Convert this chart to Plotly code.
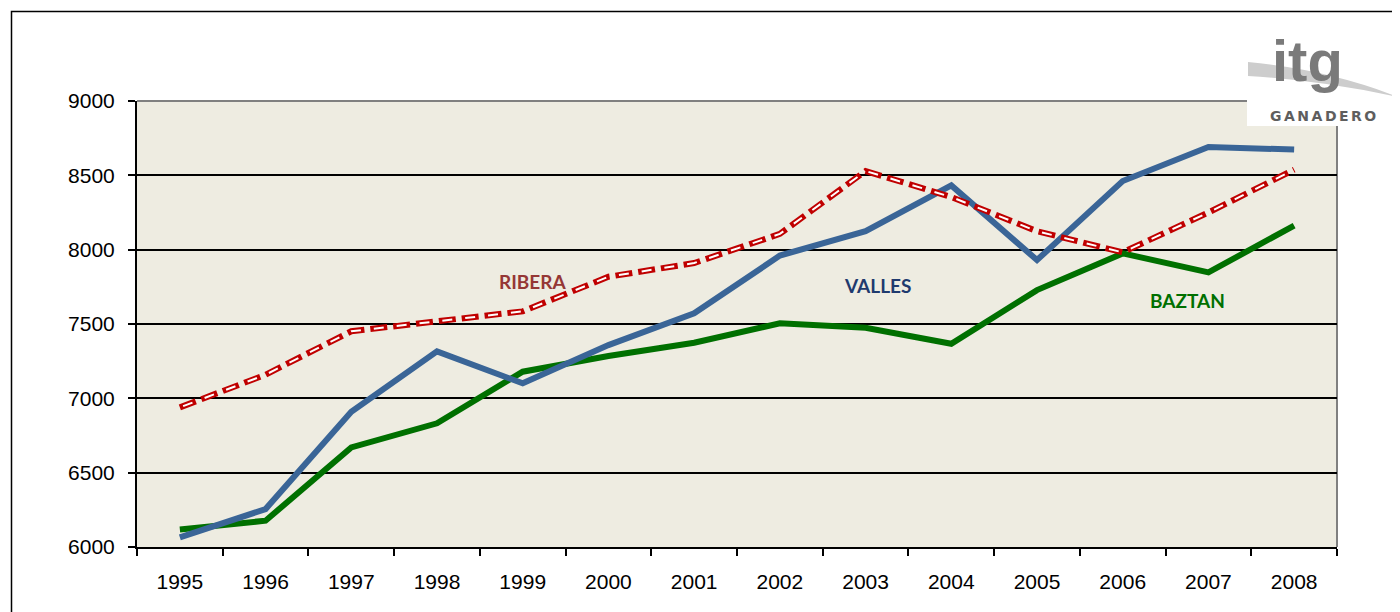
import plotly.graph_objects as go

years = [str(y) for y in range(1995, 2009)]
valles = [6065, 6255, 6910, 7316, 7101, 7358, 7572, 7960, 8124, 8432, 7930, 8462, 8691, 8673]
baztan = [6118, 6177, 6670, 6832, 7179, 7285, 7374, 7505, 7475, 7367, 7728, 7975, 7847, 8162]
ribera = [6939, 7159, 7451, 7516, 7585, 7818, 7910, 8106, 8529, 8354, 8124, 7982, 8250, 8538]

y_ticks = [6000, 6500, 7000, 7500, 8000, 8500, 9000]

W, H = 1400, 612
OFF = 8  # page body margin
L, R, T, B = 137, 1337, 101, 547  # plot area in screen pixels


def px(x):
    return (x - L) / (R - L)


def py(y):
    return (B - y) / (B - T)


fig = go.Figure()
fig.add_trace(go.Scatter(x=years, y=baztan, mode="lines", name="BAZTAN",
                         line=dict(color="#007000", width=6)))
fig.add_trace(go.Scatter(x=years, y=valles, mode="lines", name="VALLES",
                         line=dict(color="#3A6597", width=6)))
fig.add_trace(go.Scatter(x=years, y=ribera, mode="lines", name="RIBERA",
                         line=dict(color="#C00000", width=6, dash="17px,6px")))
fig.add_trace(go.Scatter(x=years, y=ribera, mode="lines", name="RIBERA",
                         line=dict(color="#FFFFFF", width=2, dash="0px,3.5px,10px,9.5px"),
                         hoverinfo="skip"))

shapes = [
    dict(type="line", xref="paper", yref="paper", x0=0, x1=1, y0=1, y1=1,
         line=dict(color="#808080", width=2), layer="between"),
    dict(type="line", xref="paper", yref="paper", x0=1, x1=1, y0=0, y1=1,
         line=dict(color="#808080", width=2), layer="between"),
    dict(type="rect", xref="paper", yref="paper", x0=px(11.5), x1=px(1430), y0=py(11.5), y1=py(650),
         line=dict(color="#000000", width=1.5), fillcolor="rgba(0,0,0,0)", layer="above"),
    dict(type="rect", xref="paper", yref="paper", x0=px(1247), x1=px(1398), y0=py(13), y1=py(126),
         line=dict(width=0), fillcolor="#FFFFFF", layer="above"),
    dict(type="path", xref="paper", yref="paper",
         path=f"M {px(1248)},{py(62)} Q {px(1330)},{py(70)} {px(1398)},{py(97)} "
              f"Q {px(1320)},{py(80)} {px(1248)},{py(76)} Z",
         fillcolor="#CDCDCD", line=dict(width=0), layer="above"),
]

annotations = [
    dict(x=4.12, y=7789, xref="x", yref="y", text="<b>RIBERA</b>", showarrow=False,
         font=dict(family="Lato", size=19, color="#953735")),
    dict(x=8.14, y=7756, xref="x", yref="y", text="<b>VALLES</b>", showarrow=False,
         font=dict(family="Lato", size=19, color="#1F3A6E")),
    dict(x=11.75, y=7661, xref="x", yref="y", text="<b>BAZTAN</b>", showarrow=False,
         font=dict(family="Lato", size=19, color="#007000")),
    dict(x=px(1307), y=py(60), xref="paper", yref="paper", text="<b>itg</b>", showarrow=False,
         xanchor="center", yanchor="middle",
         font=dict(family="Liberation Sans", size=58, color="#7A7A7A")),
    dict(x=px(1324), y=py(116), xref="paper", yref="paper",
         text='<span style="letter-spacing:2.5px">GANADERO</span>', showarrow=False,
         xanchor="center", yanchor="middle",
         font=dict(family="DejaVu Sans", size=14, color="#5E5E5E", weight="bold")),
]

fig.update_layout(
    width=W, height=H,
    margin=dict(l=L - OFF, r=W - (R - OFF), t=T - OFF, b=H - (B - OFF), pad=0),
    paper_bgcolor="#FFFFFF",
    plot_bgcolor="#EEECE1",
    showlegend=False,
    shapes=shapes,
    annotations=annotations,
    font=dict(family="Liberation Sans", size=21, color="#000000"),
)

fig.update_xaxes(
    type="category", categoryorder="array", categoryarray=years,
    range=[-0.5, len(years) - 0.5],
    showgrid=False, showline=True, linecolor="#000000", linewidth=2,
    ticks="outside", tickson="boundaries", ticklen=7, tickcolor="#000000", tickwidth=1.5,
    ticklabelstandoff=15,
    tickfont=dict(family="Liberation Sans", size=21, color="#000000"),
    zeroline=False,
)
fig.update_yaxes(
    range=[6000, 9000], tickvals=y_ticks, ticktext=[str(v) for v in y_ticks],
    showgrid=True, gridcolor="#000000", gridwidth=1.5,
    showline=True, linecolor="#000000", linewidth=2,
    ticks="outside", ticklen=7, tickcolor="#000000", tickwidth=1.5,
    ticklabelstandoff=9,
    tickfont=dict(family="Liberation Sans", size=21, color="#000000"),
    zeroline=False,
)

fig.write_html("out.html")
